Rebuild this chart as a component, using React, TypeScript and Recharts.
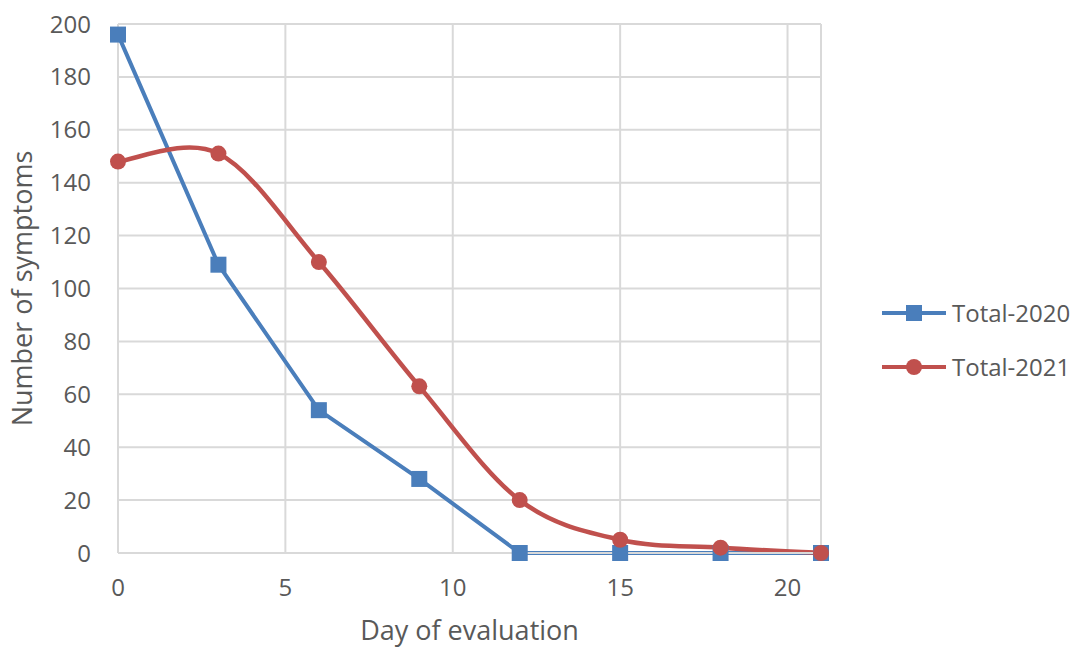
import React from 'react';
import { LineChart, Line, XAxis, YAxis, CartesianGrid, Legend, Label } from 'recharts';

const days = [0, 3, 6, 9, 12, 15, 18, 21];
const total2020 = [196, 109, 54, 28, 0, 0, 0, 0];
const total2021 = [148, 151, 110, 63, 20, 5, 2, 0];
const xTicks = [0, 5, 10, 15, 20];
const yTicks = [0, 20, 40, 60, 80, 100, 120, 140, 160, 180, 200];
const seriesNames = ['Total-2020', 'Total-2021'];

const BLUE = '#4a7ebb';
const RED = '#c0504d';
const TEXT = '#595959';
const GRID = '#d9d9d9';

const data = days.map((d, i) => ({ day: d, t2020: total2020[i], t2021: total2021[i] }));

// Excel-like smoothing (Catmull-Rom through the points)
const smoothCurve = (context: any) => {
  let pts: number[][] = [];
  return {
    areaStart() {},
    areaEnd() {},
    lineStart() {
      pts = [];
    },
    point(x: number, y: number) {
      pts.push([+x, +y]);
    },
    lineEnd() {
      if (!pts.length) return;
      context.moveTo(pts[0][0], pts[0][1]);
      for (let i = 0; i < pts.length - 1; i++) {
        const p0 = pts[i - 1] || pts[i];
        const p1 = pts[i];
        const p2 = pts[i + 1];
        const p3 = pts[i + 2] || p2;
        context.bezierCurveTo(
          p1[0] + (p2[0] - p0[0]) / 6,
          p1[1] + (p2[1] - p0[1]) / 6,
          p2[0] - (p3[0] - p1[0]) / 6,
          p2[1] - (p3[1] - p1[1]) / 6,
          p2[0],
          p2[1]
        );
      }
    },
  };
};

const SquareDot = (props: any) => {
  const { cx, cy, index } = props;
  if (cx == null || cy == null) return null;
  return <rect key={'sq' + index} x={cx - 8} y={cy - 8} width={16} height={16} fill={BLUE} />;
};

const renderLegend = () => (
  <svg width={194} height={110}>
    <line x1={2} y1={23} x2={66} y2={23} stroke={BLUE} strokeWidth={4} />
    <rect x={26} y={15} width={16} height={16} fill={BLUE} />
    <text x={72} y={32} fontSize={24} fill={TEXT}>{seriesNames[0]}</text>
    <line x1={2} y1={77} x2={66} y2={77} stroke={RED} strokeWidth={4} />
    <circle cx={34} cy={77} r={8} fill={RED} />
    <text x={72} y={86} fontSize={24} fill={TEXT}>{seriesNames[1]}</text>
  </svg>
);

const App = () => {
  return (
    <div style={{ position: 'absolute', left: 0, top: 0, fontFamily: '"Open Sans", sans-serif', background: '#fff' }}>
      <LineChart width={1074} height={649} data={data} margin={{ top: 24, right: 253, left: 0, bottom: 0 }}>
        <CartesianGrid stroke={GRID} strokeWidth={2} />
        <XAxis
          dataKey="day"
          type="number"
          domain={[0, 21]}
          ticks={xTicks}
          height={96}
          tickLine={false}
          tickSize={0}
          tickMargin={26}
          axisLine={{ stroke: GRID, strokeWidth: 2 }}
          tick={{ fill: TEXT, fontSize: 24 }}
        >
          <Label value="Day of evaluation" position="insideBottom" offset={9} fill={TEXT} fontSize={27} />
        </XAxis>
        <YAxis
          type="number"
          domain={[0, 200]}
          ticks={yTicks}
          width={118}
          tickLine={false}
          tickSize={0}
          tickMargin={27}
          axisLine={false}
          tick={{ fill: TEXT, fontSize: 24 }}
        >
          <Label
            value="Number of symptoms"
            position="insideLeft"
            angle={-90}
            offset={22}
            fill={TEXT}
            fontSize={27}
            style={{ textAnchor: 'middle' }}
          />
        </YAxis>
        <Legend
          layout="horizontal"
          verticalAlign="middle"
          align="center"
          content={renderLegend}
          wrapperStyle={{ left: 880, top: 290, width: 194 }}
        />
        <Line
          dataKey="t2020"
          name={seriesNames[0]}
          type="linear"
          stroke={BLUE}
          strokeWidth={4}
          dot={SquareDot}
          activeDot={false}
          isAnimationActive={false}
        />
        <Line
          dataKey="t2021"
          name={seriesNames[1]}
          type={smoothCurve as any}
          stroke={RED}
          strokeWidth={4.5}
          dot={{ r: 8, fill: RED, stroke: 'none' }}
          activeDot={false}
          isAnimationActive={false}
        />
      </LineChart>
    </div>
  );
};

export default App;
